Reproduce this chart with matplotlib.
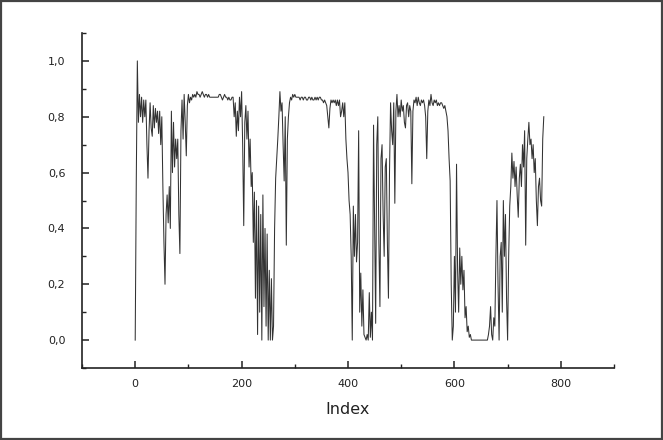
import numpy as np
import matplotlib
matplotlib.use("Agg")
import matplotlib.pyplot as plt
from matplotlib.ticker import MultipleLocator, FuncFormatter
from matplotlib.patches import Rectangle

# Index step between the sampled values
step = 2
values = [
    0.00, 0.57, 1.00, 0.78, 0.88, 0.80, 0.87, 0.78, 0.86, 0.80, 0.86, 0.70, 0.58, 0.75, 0.85, 0.76, 0.73, 0.84, 0.76, 0.83,
    0.78, 0.82, 0.74, 0.82, 0.70, 0.80, 0.55, 0.35, 0.20, 0.45, 0.52, 0.42, 0.55, 0.40, 0.82, 0.60, 0.78, 0.62, 0.72, 0.65,
    0.72, 0.45, 0.31, 0.75, 0.86, 0.72, 0.88, 0.78, 0.66, 0.84, 0.88, 0.85, 0.87, 0.86, 0.88, 0.87, 0.88, 0.87, 0.89, 0.88,
    0.88, 0.87, 0.88, 0.89, 0.88, 0.87, 0.88, 0.88, 0.87, 0.88, 0.87, 0.87, 0.87, 0.87, 0.87, 0.87, 0.87, 0.87, 0.87, 0.88,
    0.88, 0.87, 0.86, 0.87, 0.88, 0.87, 0.87, 0.86, 0.87, 0.86, 0.86, 0.87, 0.87, 0.80, 0.85, 0.73, 0.82, 0.75, 0.87, 0.80,
    0.89, 0.70, 0.41, 0.78, 0.84, 0.72, 0.82, 0.62, 0.72, 0.55, 0.60, 0.35, 0.53, 0.15, 0.50, 0.02, 0.48, 0.10, 0.45, 0.00,
    0.52, 0.12, 0.40, 0.05, 0.38, 0.00, 0.25, 0.00, 0.22, 0.00, 0.05, 0.40, 0.58, 0.65, 0.72, 0.80, 0.89, 0.82, 0.85, 0.70,
    0.57, 0.80, 0.34, 0.72, 0.80, 0.85, 0.87, 0.86, 0.88, 0.87, 0.88, 0.87, 0.87, 0.87, 0.87, 0.86, 0.87, 0.87, 0.86, 0.87,
    0.87, 0.86, 0.86, 0.87, 0.87, 0.86, 0.87, 0.86, 0.86, 0.87, 0.86, 0.87, 0.86, 0.87, 0.87, 0.86, 0.86, 0.85, 0.86, 0.85,
    0.84, 0.80, 0.76, 0.83, 0.86, 0.85, 0.86, 0.85, 0.86, 0.84, 0.86, 0.84, 0.86, 0.80, 0.82, 0.85, 0.80, 0.85, 0.72, 0.65,
    0.60, 0.50, 0.45, 0.30, 0.00, 0.48, 0.30, 0.45, 0.28, 0.35, 0.75, 0.10, 0.24, 0.05, 0.18, 0.02, 0.01, 0.00, 0.02, 0.00,
    0.17, 0.01, 0.10, 0.00, 0.77, 0.40, 0.06, 0.70, 0.80, 0.35, 0.12, 0.65, 0.70, 0.45, 0.30, 0.62, 0.65, 0.35, 0.15, 0.60,
    0.85, 0.75, 0.70, 0.85, 0.49, 0.82, 0.88, 0.80, 0.84, 0.80, 0.86, 0.82, 0.84, 0.78, 0.76, 0.84, 0.85, 0.80, 0.84, 0.82,
    0.56, 0.82, 0.86, 0.85, 0.87, 0.84, 0.87, 0.85, 0.84, 0.86, 0.85, 0.86, 0.84, 0.80, 0.65, 0.82, 0.86, 0.84, 0.88, 0.85,
    0.84, 0.86, 0.85, 0.86, 0.84, 0.85, 0.84, 0.85, 0.85, 0.84, 0.83, 0.84, 0.82, 0.80, 0.75, 0.65, 0.57, 0.20, 0.00, 0.05,
    0.30, 0.10, 0.63, 0.25, 0.10, 0.33, 0.20, 0.30, 0.18, 0.25, 0.08, 0.12, 0.03, 0.05, 0.01, 0.02, 0.00, 0.00, 0.00, 0.00,
    0.00, 0.00, 0.00, 0.00, 0.00, 0.00, 0.00, 0.00, 0.00, 0.00, 0.00, 0.00, 0.02, 0.05, 0.12, 0.02, 0.00, 0.08, 0.05, 0.30,
    0.50, 0.20, 0.00, 0.30, 0.35, 0.10, 0.50, 0.30, 0.45, 0.15, 0.00, 0.30, 0.48, 0.55, 0.67, 0.58, 0.64, 0.55, 0.62, 0.52,
    0.44, 0.58, 0.63, 0.55, 0.70, 0.62, 0.75, 0.34, 0.65, 0.72, 0.78, 0.70, 0.72, 0.65, 0.70, 0.60, 0.65, 0.50, 0.41, 0.55,
    0.58, 0.50, 0.48, 0.72, 0.80,
]
index = np.arange(len(values)) * step

x_major = [0, 200, 400, 600, 800]
y_major = [0.0, 0.2, 0.4, 0.6, 0.8, 1.0]
x_label = "Index"

fig = plt.figure(figsize=(6.63, 4.40), dpi=100)
ax = fig.add_axes([0.1237, 0.1636, 0.8024, 0.7614])

ax.plot(index, values, color="#333333", linewidth=0.75)

ax.set_xlim(-100, 900)
ax.set_ylim(-0.1, 1.1)
ax.set_xticks(x_major)
ax.set_yticks(y_major)
ax.xaxis.set_minor_locator(MultipleLocator(100))
ax.yaxis.set_minor_locator(MultipleLocator(0.1))
ax.yaxis.set_major_formatter(FuncFormatter(lambda v, p: f"{v:.1f}".replace(".", ",")))

for s in ["top", "right"]:
    ax.spines[s].set_visible(False)
for s in ["left", "bottom"]:
    ax.spines[s].set_linewidth(1.2)
    ax.spines[s].set_color("#222222")

ax.tick_params(which="major", direction="in", length=5, width=1.1, color="#222222",
               labelsize=8, labelcolor="#222222")
ax.tick_params(which="minor", direction="in", length=3, width=1.0, color="#222222")
ax.tick_params(axis="y", which="major", pad=12)
ax.tick_params(axis="x", which="major", pad=8)

ax.set_xlabel(x_label, fontsize=11.5, color="#222222")
ax.xaxis.set_label_coords(0.5, -0.10)

fig.patches.append(Rectangle((0.002, 0.003), 0.996, 0.994, transform=fig.transFigure,
                             fill=False, edgecolor="#444444", linewidth=1.6))

fig.savefig("out.png", dpi=100)
